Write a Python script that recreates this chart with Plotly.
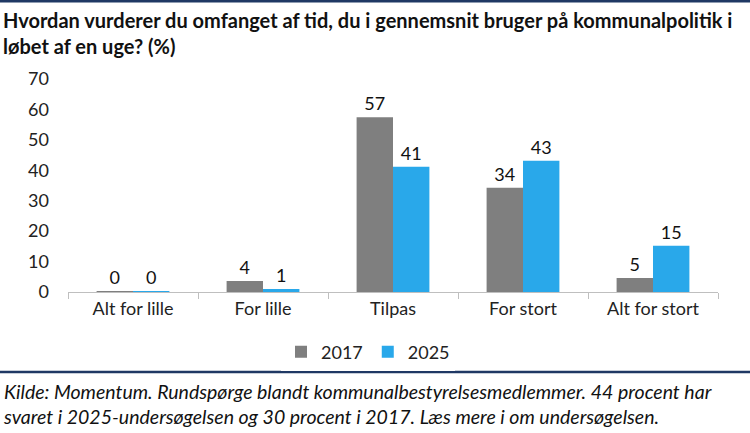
import plotly.graph_objects as go

categories = ["Alt for lille", "For lille", "Tilpas", "For stort", "Alt for stort"]
values_2017 = [0.3, 3.6, 57.4, 34.3, 4.6]
values_2025 = [0.3, 1.0, 41.2, 43.1, 15.2]
series_names = ["2017", "2025"]
y_ticks = [0, 10, 20, 30, 40, 50, 60, 70]

title_text = ("Hvordan vurderer du omfanget af tid, du i gennemsnit bruger på kommunalpolitik i<br>"
              "løbet af en uge? (%)")
source_text = ("Kilde: Momentum. Rundspørge blandt kommunalbestyrelsesmedlemmer. 44 procent har<br>"
               "svaret i 2025-undersøgelsen og 30 procent i 2017. Læs mere i om undersøgelsen.")

FONT = "Lato"
NAVY = "#1F3864"
W, H = 750, 433
L, R, T, B = 68, 32, 79, 141
pw, ph = W - L - R, H - T - B


def px_x(x):
    return (x - L) / pw


def px_y(y):
    return (H - B - y) / ph


fig = go.Figure()
for name, vals, col in [(series_names[0], values_2017, "#7F7F7F"),
                        (series_names[1], values_2025, "#29A8EA")]:
    fig.add_trace(go.Bar(
        x=categories, y=vals, name=name,
        marker=dict(color=col, line=dict(width=0)),
        texttemplate="%{y:.0f}", textposition="outside",
        textfont=dict(family=FONT, size=18, color="#111111"),
        cliponaxis=False,
    ))

# navy rules above the title and above the source note
for yy in (1.3, 372):
    fig.add_shape(type="line", xref="paper", yref="paper",
                  x0=px_x(0), x1=px_x(W), y0=px_y(yy), y1=px_y(yy),
                  line=dict(color=NAVY, width=2.5))

fig.add_annotation(text="<b>" + title_text + "</b>", xref="paper", yref="paper",
                   x=px_x(1), y=px_y(6), xanchor="left", yanchor="top", align="left",
                   showarrow=False, font=dict(family=FONT, size=20, color="#111111"))
fig.add_annotation(text="<i>" + source_text + "</i>", xref="paper", yref="paper",
                   x=px_x(1), y=px_y(378), xanchor="left", yanchor="top", align="left",
                   showarrow=False, font=dict(family=FONT, size=19.5, color="#111111"))

fig.update_layout(
    width=W, height=H,
    margin=dict(l=L, r=R, t=T, b=B),
    paper_bgcolor="white", plot_bgcolor="white",
    barmode="group", bargap=0.44, bargroupgap=0,
    font=dict(family=FONT, size=18, color="#222222"),
    showlegend=True,
    legend=dict(orientation="h", x=px_x(368), xanchor="center", y=px_y(352), yanchor="middle",
                font=dict(family=FONT, size=18), itemwidth=30),
)
fig.update_xaxes(showline=True, linecolor="#BFBFBF", linewidth=1,
                 ticks="outside", tickson="boundaries", ticklen=6, tickcolor="#BFBFBF",
                 showgrid=False, tickfont=dict(family=FONT, size=18))
fig.update_yaxes(range=[0, 70], tickvals=y_ticks, showgrid=False, zeroline=False,
                 showline=False, ticks="", ticklabelstandoff=18,
                 tickfont=dict(family=FONT, size=18))

fig.write_html("out.html", config={"displayModeBar": False},
               post_script="document.body.style.margin='0';")
